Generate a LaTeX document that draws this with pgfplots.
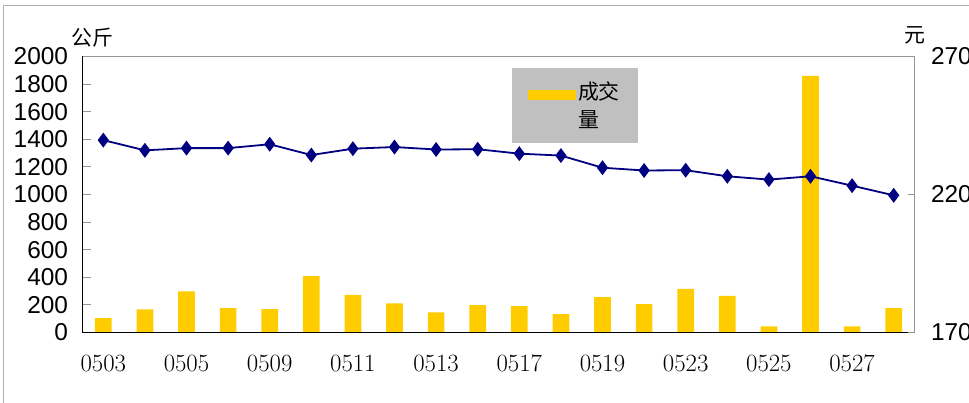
\documentclass[border=0pt]{standalone}
\usepackage{fontspec}
\setmainfont{Liberation Sans}
\newfontfamily\cjk{Noto Sans CJK SC}
\usepackage{pgfplots}
\pgfplotsset{compat=1.18}
\definecolor{barc}{HTML}{FFCC00}
\definecolor{linec}{HTML}{000080}
\definecolor{framec}{HTML}{969696}
\definecolor{leggray}{HTML}{C0C0C0}
\begin{document}
\begin{tikzpicture}
\useasboundingbox (0bp,0bp) rectangle (969bp,403bp);
\draw[black!30, line width=1bp] (3bp,-5bp) rectangle (985bp,397bp);
\begin{axis}[
  at={(82.5bp,70.5bp)}, anchor=south west,
  width=832bp, height=276bp, scale only axis,
  xmin=-0.5, xmax=19.5, ymin=0, ymax=2000,
  ytick={0,200,...,2000},
  xtick={0,2,...,18},
  xticklabels={$0503$,$0505$,$0509$,$0511$,$0513$,$0517$,$0519$,$0523$,$0525$,$0527$},
  xtick style={draw=none},
  ytick pos=left, tick align=inside, major tick length=8bp,
  ytick style={framec, line width=1bp},
  axis line style={framec, line width=1.5bp},
  /pgf/number format/1000 sep={},
  /pgf/number format/assume math mode=true,
  yticklabel style={font=\fontsize{24.5}{24.5}\selectfont, xshift=-11bp},
  xticklabel style={font=\fontsize{23}{23}\selectfont, yshift=-20bp},
  ylabel={公斤},
  ylabel style={rotate=-90, at={(axis description cs:0.012,1.067)}, anchor=center, font=\cjk\fontsize{21}{21}\selectfont},
  legend style={at={(axis description cs:0.516,0.959)}, anchor=north west, fill=leggray, draw=none,
    inner xsep=16bp, inner ysep=12bp, font=\cjk\fontsize{21}{28}\selectfont,
    nodes={inner sep=2bp, align=left}},
  after end axis/.code={\draw[black, line width=1.6bp] (rel axis cs:0,1) -- (rel axis cs:0,0) -- (rel axis cs:1,0);},
]
\addplot[ybar, bar width=16.7bp, fill=barc, draw=none,
  legend image code/.code={\fill[barc] (2bp,6bp) rectangle (50bp,16bp);}]
  coordinates {(0,105) (1,168) (2,298) (3,176) (4,170) (5,409) (6,272) (7,211) (8,146) (9,199)
  (10,192) (11,134) (12,257) (13,206) (14,317) (15,266) (16,45) (17,1860) (18,45) (19,177)};
\addlegendentry{\cjk 成交\\\cjk 量}
\end{axis}
\begin{axis}[
  at={(82.5bp,70.5bp)}, anchor=south west,
  width=832bp, height=276bp, scale only axis,
  xmin=-0.5, xmax=19.5, ymin=1700, ymax=2700,
  axis x line=none, axis y line*=right,
  ytick={1700,2200,2700}, tick align=inside, major tick length=7bp,
  ytick style={framec, line width=1bp},
  axis line style={framec, line width=1.5bp},
  /pgf/number format/1000 sep={},
  /pgf/number format/assume math mode=true,
  yticklabel style={font=\fontsize{24.5}{24.5}\selectfont, xshift=13bp},
  ylabel={元},
  ylabel style={rotate=-90, at={(axis description cs:1.0,1.078)}, anchor=center, font=\cjk\fontsize{21}{21}\selectfont},
]
\addplot[linec, line width=1.8bp, mark=diamond*, mark size=6bp, mark options={fill=linec, solid}]
  coordinates {(0,2397) (1,2360) (2,2368) (3,2368) (4,2382) (5,2343) (6,2366) (7,2372) (8,2363) (9,2364)
  (10,2348) (11,2341) (12,2297) (13,2287) (14,2288) (15,2266) (16,2254) (17,2266) (18,2232) (19,2197)};
\end{axis}
\end{tikzpicture}
\end{document}
